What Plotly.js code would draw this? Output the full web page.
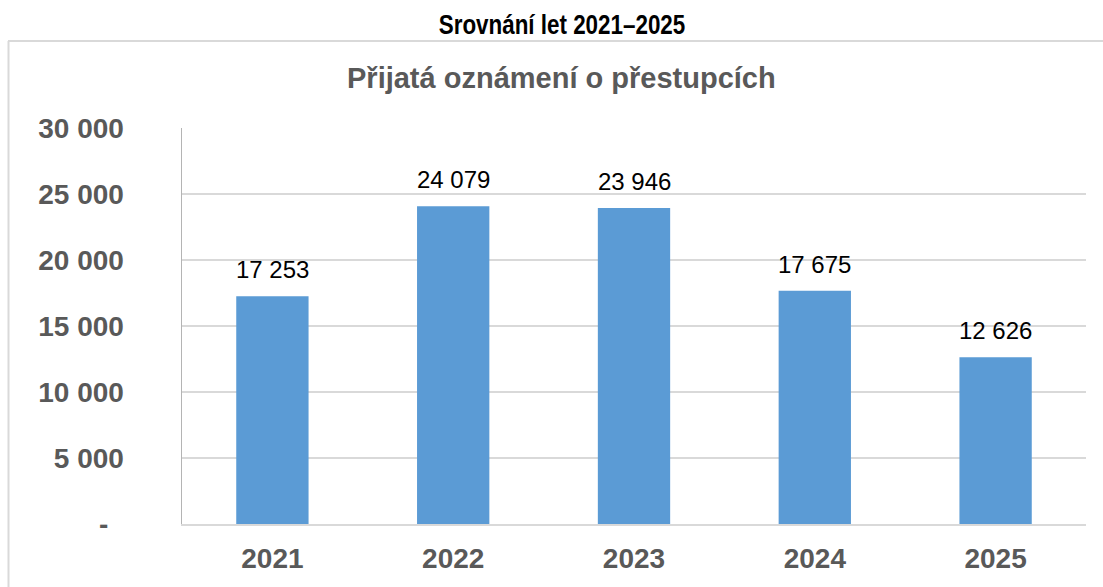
<!DOCTYPE html>
<html>
<head>
<meta charset="utf-8">
<script src="https://cdn.plot.ly/plotly-3.0.1.min.js"></script>
<style>
  html, body { margin: 0; padding: 0; background: #ffffff; }
  #chart { width: 1103px; height: 587px; }
</style>
</head>
<body>
<div id="chart"></div>
<script>
const years = ['2021', '2022', '2023', '2024', '2025'];
const values = [17253, 24079, 23946, 17675, 12626];
const yTickVals = [0, 5000, 10000, 15000, 20000, 25000, 30000];
const yTickLabels = ['-\u00a0\u00a0', '5 000', '10 000', '15 000', '20 000', '25 000', '30 000'];
const pageTitle = 'Srovnání let 2021–2025';
const chartTitle = 'Přijatá oznámení o přestupcích';

function fmt(v) {
  return String(v).replace(/\B(?=(\d{3})+(?!\d))/g, ' ');
}

const W = 1103, H = 587;
const mL = 182, mR = 17, mT = 128, mB = 63;
const pw = W - mL - mR, ph = H - mT - mB;
const px = x => (x - mL) / pw;
const py = y => (H - mB - y) / ph;

const trace = {
  type: 'bar',
  x: years,
  y: values,
  marker: { color: '#5B9BD5' },
  hoverinfo: 'x+y'
};

const labelAnns = years.map((yr, i) => ({
  x: i,
  y: values[i],
  xref: 'x',
  yref: 'y',
  text: fmt(values[i]),
  showarrow: false,
  yanchor: 'bottom',
  yshift: 11,
  font: { family: 'Liberation Sans, Arial, sans-serif', size: 24, color: '#000000' }
}));

const layout = {
  width: W,
  height: H,
  margin: { l: mL, r: mR, t: mT, b: mB, pad: 0 },
  paper_bgcolor: '#ffffff',
  plot_bgcolor: '#ffffff',
  showlegend: false,
  bargap: 0.6,
  title: {
    text: pageTitle,
    xref: 'container',
    yref: 'container',
    x: 562 / W,
    y: 1 - 25 / H,
    xanchor: 'center',
    yanchor: 'middle',
    font: { family: 'Liberation Sans Narrow, Arial Narrow, Liberation Sans, sans-serif', size: 27, color: '#000000', weight: 700 }
  },
  xaxis: {
    type: 'category',
    categoryorder: 'array',
    categoryarray: years,
    range: [-0.5, years.length - 0.5],
    autorange: false,
    showgrid: false,
    showline: true,
    linecolor: '#D9D9D9',
    linewidth: 2,
    ticks: 'outside',
    ticklen: 8,
    tickcolor: 'rgba(0,0,0,0)',
    tickfont: { family: 'Liberation Sans, Arial, sans-serif', size: 28, color: '#595959', weight: 700 },
    fixedrange: true
  },
  yaxis: {
    range: [0, 30000],
    autorange: false,
    tickvals: yTickVals,
    ticktext: yTickLabels,
    showgrid: true,
    gridcolor: '#D9D9D9',
    gridwidth: 1.5,
    zeroline: false,
    showline: true,
    linecolor: '#B4B4B4',
    linewidth: 1.5,
    ticks: 'outside',
    ticklen: 51,
    tickcolor: 'rgba(0,0,0,0)',
    tickfont: { family: 'Liberation Sans, Arial, sans-serif', size: 28, color: '#595959', weight: 700 },
    fixedrange: true
  },
  annotations: [
    {
      text: chartTitle,
      xref: 'paper',
      yref: 'paper',
      x: px(561),
      y: py(78),
      xanchor: 'center',
      yanchor: 'middle',
      showarrow: false,
      font: { family: 'Liberation Sans, Arial, sans-serif', size: 29, color: '#595959', weight: 700 }
    }
  ].concat(labelAnns),
  shapes: [
    {
      type: 'line', xref: 'paper', yref: 'paper',
      x0: px(8), x1: px(1103), y0: py(41), y1: py(41),
      line: { color: '#D9D9D9', width: 2 }
    },
    {
      type: 'line', xref: 'paper', yref: 'paper',
      x0: px(8.5), x1: px(8.5), y0: py(41), y1: py(587),
      line: { color: '#D9D9D9', width: 2 }
    }
  ]
};

Plotly.newPlot('chart', [trace], layout, { displayModeBar: false, staticPlot: true }).then(() => {
  const t = document.querySelector('#chart .gtitle');
  if (t) {
    t.style.transformBox = 'fill-box';
    t.style.transformOrigin = 'center';
    t.style.transform = 'scaleX(0.83)';
  }
});
</script>
</body>
</html>
